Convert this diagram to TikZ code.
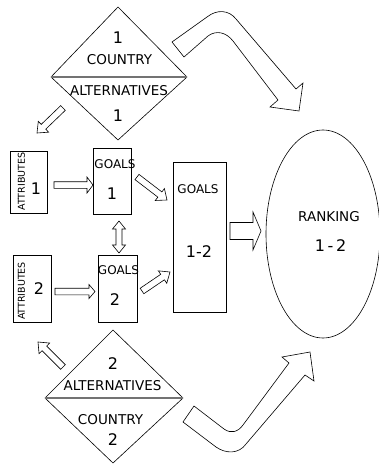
\documentclass[tikz,border=0pt]{standalone}
\usepackage{fontspec}
\setmainfont{DejaVu Sans}
\usetikzlibrary{calc,shapes.geometric}
\tikzset{
  box/.style={draw, line width=0.6pt, fill=white, inner sep=0pt},
  blk/.style={draw, line width=0.6pt, fill=white, line join=miter},
  split/.style={draw=black!55, line width=1.5pt},
  txt/.style={inner sep=0pt, font=\fontsize{13.5}{13.5}\selectfont},
  small/.style={inner sep=0pt, font=\fontsize{12}{12}\selectfont},
  tiny/.style={inner sep=0pt, font=\fontsize{9.5}{9.5}\selectfont},
  num/.style={inner sep=0pt, font=\fontsize{16}{16}\selectfont},
}
% block arrow: from, to, shaft half width, head half width, head length
\newcommand\blockarr[5]{%
  \coordinate (bh) at ($(#2)!#5!(#1)$);
  \draw[blk] ($(#1)!#3!90:(#2)$) -- ($(bh)!#3!90:(#2)$) -- ($(bh)!#4!90:(#2)$)
    -- (#2) -- ($(bh)!#4!-90:(#2)$) -- ($(bh)!#3!-90:(#2)$) -- ($(#1)!#3!-90:(#2)$) -- cycle;
}
% double block arrow
\newcommand\dblarr[5]{%
  \coordinate (bha) at ($(#1)!#5!(#2)$);
  \coordinate (bhb) at ($(#2)!#5!(#1)$);
  \draw[blk] (#1) -- ($(bha)!#4!90:(#2)$) -- ($(bha)!#3!90:(#2)$) -- ($(bhb)!#3!90:(#2)$)
    -- ($(bhb)!#4!90:(#2)$) -- (#2) -- ($(bhb)!#4!-90:(#2)$) -- ($(bhb)!#3!-90:(#2)$)
    -- ($(bha)!#3!-90:(#2)$) -- ($(bha)!#4!-90:(#2)$) -- cycle;
}
\begin{document}
\begin{tikzpicture}[x=1pt, y=-1pt]
\useasboundingbox[fill=white] (0,0) rectangle (379,464);

% ---- top diamond
\coordinate (d1l) at (51,77);
\coordinate (d1t) at (118,7);
\coordinate (d1r) at (187,77);
\coordinate (d1b) at (118,140);
\draw[blk] (d1l) -- (d1t) -- (d1r) -- (d1b) -- cycle;
\draw[split] (d1l) -- (d1r);
\node[num] (d1n1) at (118,37.5) {1};
\node[txt] (d1c) at (119.5,60) {COUNTRY};
\node[txt] (d1a) at (119,90.5) {ALTERNATIVES};
\node[num] (d1n2) at (118,116) {1};

% ---- bottom diamond
\coordinate (d2l) at (45,398);
\coordinate (d2t) at (113,330);
\coordinate (d2r) at (183,398);
\coordinate (d2b) at (113,463);
\draw[blk] (d2l) -- (d2t) -- (d2r) -- (d2b) -- cycle;
\draw[split] (d2l) -- (d2r);
\node[num] (d2n1) at (113,363.5) {2};
\node[txt] (d2a) at (112.5,385.5) {ALTERNATIVES};
\node[txt] (d2c) at (110.5,419.5) {COUNTRY};
\node[num] (d2n2) at (113,440) {2};

% ---- boxes
\node[box, minimum width=37pt, minimum height=62pt] (a1) at (28.5,182) {};
\node[tiny, rotate=90] (a1t) at (21.5,181.5) {ATTRIBUTES};
\node[num] (a1n) at (36,189) {1};

\node[box, minimum width=38pt, minimum height=66pt] (g1) at (112,181) {};
\node[small] (g1t) at (115,164.5) {GOALS};
\node[num] (g1n) at (112,194) {1};

\node[box, minimum width=38pt, minimum height=67pt] (a2) at (32,288.5) {};
\node[tiny, rotate=90] (a2t) at (21.5,291) {ATTRIBUTES};
\node[num] (a2n) at (39,288.5) {2};

\node[box, minimum width=39pt, minimum height=67pt] (g2) at (117.5,288.5) {};
\node[small] (g2t) at (118.5,270.5) {GOALS};
\node[num] (g2n) at (115,300) {2};

\node[box, minimum width=53pt, minimum height=150pt] (g12) at (199.5,237) {};
\node[small] (g12t) at (198,189) {GOALS};
\node[num] (g12n) at (199,252) {1-2};

\node[draw, line width=0.6pt, ellipse, minimum width=114pt, minimum height=208pt, inner sep=0pt] (rk) at (323,234) {};
\node[txt] (rkt) at (329,216.5) {RANKING};
\node[num] (rkn) at (330.5,246) {1\,-\,2};

% ---- block arrows
\coordinate (p1s) at (63,108);  \coordinate (p1e) at (37,133);
\blockarr{p1s}{p1e}{3.3pt}{7.5pt}{9pt}
\coordinate (p2s) at (54,185);  \coordinate (p2e) at (93,185);
\blockarr{p2s}{p2e}{3.3pt}{8pt}{6pt}
\coordinate (p3s) at (55,291.5);  \coordinate (p3e) at (95,291.5);
\blockarr{p3s}{p3e}{3.3pt}{7pt}{6pt}
\coordinate (p4s) at (137,177);  \coordinate (p4e) at (167,200);
\blockarr{p4s}{p4e}{3.3pt}{7.5pt}{9pt}
\coordinate (p5s) at (142,291);  \coordinate (p5e) at (170,272);
\blockarr{p5s}{p5e}{3.3pt}{7.5pt}{9pt}
\coordinate (p6s) at (230,231);  \coordinate (p6e) at (261,231);
\blockarr{p6s}{p6e}{8.5pt}{19pt}{8pt}
\coordinate (p7s) at (63,367);  \coordinate (p7e) at (38,342);
\blockarr{p7s}{p7e}{3.3pt}{7.5pt}{9pt}
\coordinate (q1) at (119,221);  \coordinate (q2) at (119,253);
\dblarr{q1}{q2}{3pt}{6.5pt}{8pt}

% ---- big curved arrows
\draw[blk] (172,42) -- (207,17) .. controls (217,9) and (229,10) .. (236,19) -- (296,89)
  -- (303,83) -- (299,111) -- (270,107) -- (278,100) -- (233,41)
  .. controls (226,32) and (216,30) .. (208,36) -- (184,57) -- cycle;

\draw[blk] (183,422) -- (216,447) .. controls (226,454) and (239,454) .. (246,444) -- (305,375)
  -- (314,381) -- (310,352) -- (282,357) -- (289,363) -- (243,425)
  .. controls (238,432) and (231,434) .. (224,429) -- (194,406) -- cycle;
\end{tikzpicture}
\end{document}
